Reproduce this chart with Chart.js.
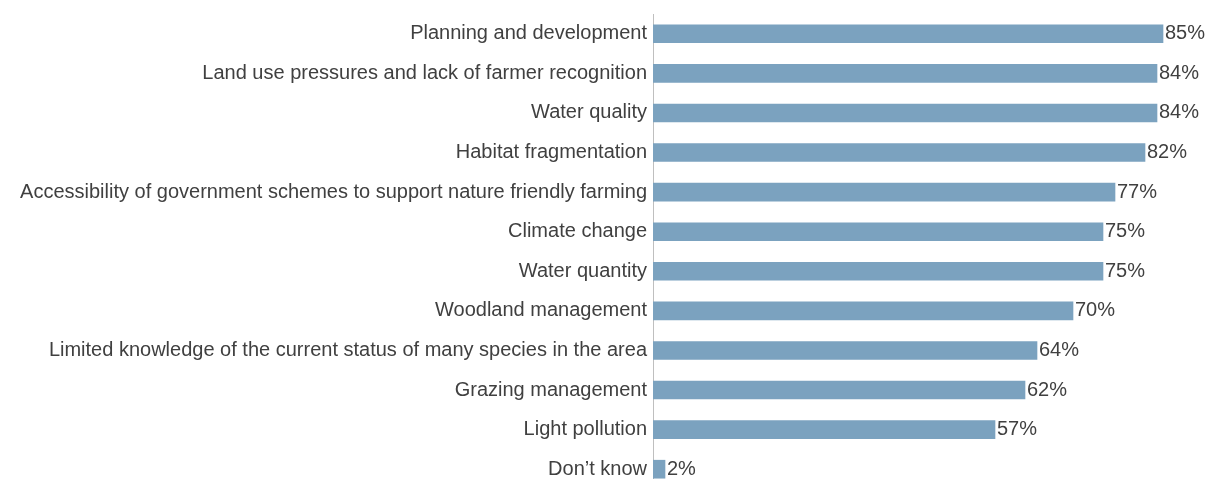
<!DOCTYPE html>
<html>
<head>
<meta charset="utf-8">
<script src="https://cdn.jsdelivr.net/npm/chart.js@4"></script>
<style>
  html, body { margin: 0; padding: 0; background: #ffffff; overflow: hidden; }
  #wrap { width: 1206px; height: 490px; position: relative; }
</style>
</head>
<body>
<div id="wrap"><canvas id="issuesChart"></canvas></div>
<script>
// Issues facing nature in the area - share of respondents
const categories = [
    'Planning and development',
    'Land use pressures and lack of farmer recognition',
    'Water quality',
    'Habitat fragmentation',
    'Accessibility of government schemes to support nature friendly farming',
    'Climate change',
    'Water quantity',
    'Woodland management',
    'Limited knowledge of the current status of many species in the area',
    'Grazing management',
    'Light pollution',
    'Don\u2019t know'
];
const percentValues = [85, 84, 84, 82, 77, 75, 75, 70, 64, 62, 57, 2];

const textColor = '#404040';
const fontFamily = '"Liberation Sans", Arial, sans-serif';

// draws "85%" etc. just past the end of each bar
const valueLabels = {
    id: 'valueLabels',
    afterDatasetsDraw(chart) {
        const { ctx } = chart;
        const meta = chart.getDatasetMeta(0);
        ctx.save();
        ctx.font = `20px ${fontFamily}`;
        ctx.fillStyle = textColor;
        ctx.textAlign = 'left';
        ctx.textBaseline = 'middle';
        meta.data.forEach((bar, i) => {
            ctx.fillText(percentValues[i] + '%', bar.x + 2, bar.y);
        });
        ctx.restore();
    }
};

new Chart(document.getElementById('issuesChart'), {
    type: 'bar',
    data: {
        labels: categories,
        datasets: [{
            data: percentValues,
            backgroundColor: '#7BA2BF',
            borderWidth: 0,
            barThickness: 18
        }]
    },
    plugins: [valueLabels],
    options: {
        indexAxis: 'y',
        responsive: true,
        maintainAspectRatio: false,
        animation: false,
        layout: {
            padding: { top: 14, bottom: 1, left: 0, right: 1 }
        },
        scales: {
            x: {
                display: false,
                min: 0,
                max: 92
            },
            y: {
                afterFit(scale) {
                    scale.width = 653;
                    // no extra room for the first/last label
                    scale.paddingTop = 0;
                    scale.paddingBottom = 0;
                },
                grid: { display: false, drawTicks: false },
                border: { display: true, color: '#BFBFBF', width: 1 },
                ticks: {
                    color: textColor,
                    padding: 6,
                    autoSkip: false,
                    font: { family: fontFamily, size: 20 }
                }
            }
        },
        plugins: {
            legend: { display: false },
            tooltip: { enabled: false }
        }
    }
});
</script>
</body>
</html>
